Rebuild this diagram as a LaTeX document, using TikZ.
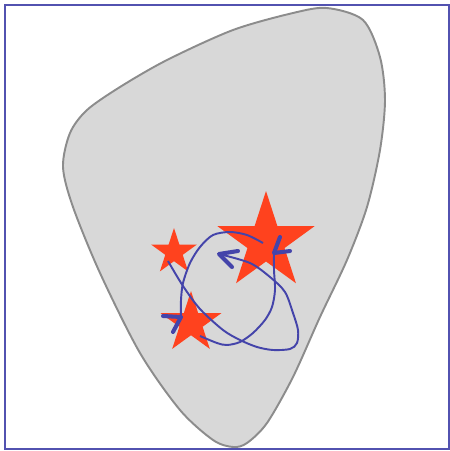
\documentclass[tikz,border=0pt]{standalone}
\usepackage{tikz}
\usetikzlibrary{calc}
\definecolor{FrameBlue}{HTML}{5252B0}
\definecolor{LoopBlue}{HTML}{4444AA}
\definecolor{BlobGray}{HTML}{D8D8D8}
\definecolor{EdgeGray}{HTML}{8C8C8C}
\definecolor{StarRed}{HTML}{FF421E}

\begin{document}
\begin{tikzpicture}[x=0.02cm, y=-0.02cm,
    loopline/.style={LoopBlue, line width=1.1pt},
    tiphead/.style={LoopBlue, line width=2.3pt, line cap=round, line join=round}]
    \useasboundingbox (0,0) rectangle (450,451);

    % Frame
    \draw[FrameBlue, line width=1.3pt] (5,5) rectangle (449,449);

    % Gray region
    \draw[fill=BlobGray, draw=EdgeGray, line width=1.1pt] plot[smooth cycle] coordinates {
        (327,8) (363,20) (380,57) (385,100) (380,150) (367,207) (347,260)
        (320,317) (293,377) (267,423) (247,443) (233,447) (213,440) (180,410)
        (140,353) (100,273) (73,207) (63,167) (70,133) (87,110) (120,87)
        (167,60) (233,30) (293,13)};

    % Stars
    \foreach \cx/\cy/\R in {266/242/51, 174/252/24, 191/323/32}{
        \fill[StarRed, shift={(\cx,\cy)}] (-90:\R)
            \foreach \k in {0,...,4}{ -- ({-54+72*\k}:{0.382*\R}) -- ({-18+72*\k}:\R)} -- cycle;
    }

    % Loops
    \coordinate (tipA) at (219,254);
    \coordinate (tipB) at (274,253);
    \coordinate (tipC) at (181,317);
    \draw[loopline] plot[smooth] coordinates {
        (168,261) (183,286) (200,309) (223,330) (240,340) (257,347) (273,350)
        (290,349) (297,343) (298,330) (293,313) (285,292) (270,277) (250,263) (tipA)};
    \draw[loopline] plot[smooth] coordinates {
        (200,336) (217,343) (227,345) (240,342) (253,333) (265,320) (272,307)
        (275,290) (274,270) (tipB)};
    \draw[loopline] plot[smooth] coordinates {
        (263,243) (247,235) (230,232) (213,235) (200,247) (190,263) (183,283)
        (181,300) (tipC)};

    % Arrow heads
    \draw[tiphead] (238,251) -- (tipA) -- (232,267);
    \draw[tiphead] (280,237) -- (tipB) -- (290,251);
    \draw[tiphead] (163,316) -- (tipC) -- (173,332);
\end{tikzpicture}
\end{document}
